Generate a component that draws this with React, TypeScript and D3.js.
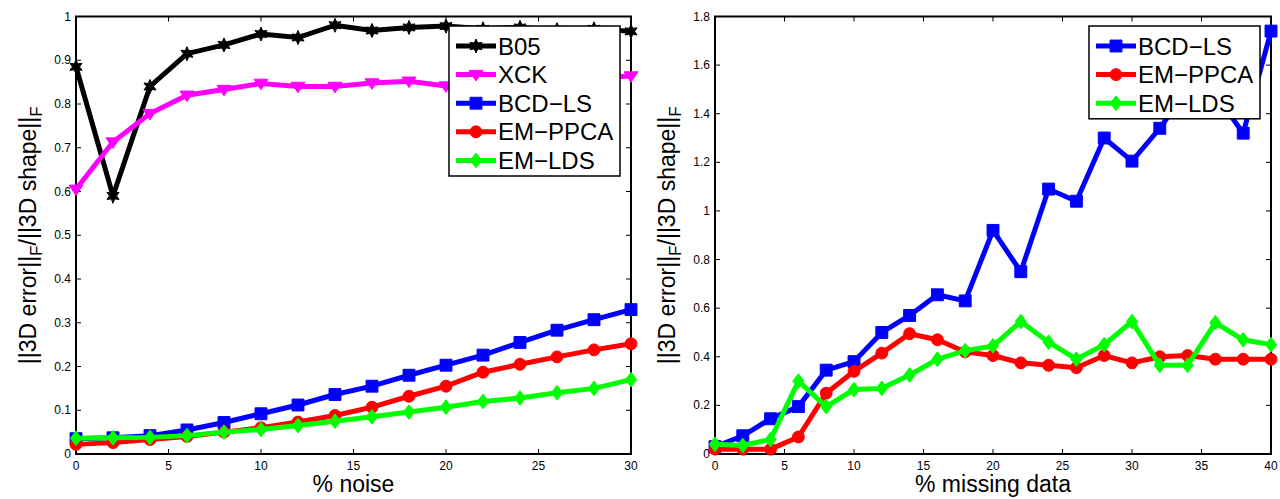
import React from 'react';
import * as d3 from 'd3';

// ---------- data ----------
const noiseX = [0, 2, 4, 6, 8, 10, 12, 14, 16, 18, 20, 22, 24, 26, 28, 30];
const b05 = [0.885, 0.59, 0.84, 0.915, 0.935, 0.96, 0.952, 0.98, 0.968, 0.975, 0.978, 0.972, 0.975, 0.97, 0.972, 0.966];
const xck = [0.605, 0.713, 0.778, 0.82, 0.833, 0.847, 0.84, 0.84, 0.848, 0.852, 0.841, 0.845, 0.85, 0.855, 0.86, 0.864];
const bcdNoise = [0.035, 0.037, 0.042, 0.055, 0.072, 0.092, 0.112, 0.136, 0.155, 0.18, 0.203, 0.226, 0.255, 0.283, 0.307, 0.33];
const ppcaNoise = [0.022, 0.026, 0.033, 0.04, 0.05, 0.06, 0.073, 0.088, 0.107, 0.132, 0.155, 0.187, 0.205, 0.222, 0.238, 0.252];
const ldsNoise = [0.036, 0.037, 0.038, 0.042, 0.05, 0.056, 0.065, 0.075, 0.085, 0.096, 0.107, 0.12, 0.128, 0.14, 0.15, 0.17];

const missX = [0, 2, 4, 6, 8, 10, 12, 14, 16, 18, 20, 22, 24, 26, 28, 30, 32, 34, 36, 38, 40];
const bcdMiss = [0.03, 0.075, 0.145, 0.195, 0.345, 0.38, 0.5, 0.57, 0.655, 0.63, 0.92, 0.75, 1.09, 1.04, 1.3, 1.205, 1.34, 1.5, 1.48, 1.32, 1.74];
const ppcaMiss = [0.02, 0.02, 0.02, 0.07, 0.25, 0.34, 0.415, 0.495, 0.47, 0.42, 0.405, 0.375, 0.365, 0.355, 0.405, 0.375, 0.4, 0.405, 0.39, 0.39, 0.39];
const ldsMiss = [0.04, 0.035, 0.06, 0.3, 0.195, 0.265, 0.27, 0.325, 0.39, 0.425, 0.445, 0.545, 0.46, 0.39, 0.45, 0.545, 0.365, 0.365, 0.54, 0.47, 0.45];

const leftXTicks = [0, 5, 10, 15, 20, 25, 30];
const leftYTicks = [0, 0.1, 0.2, 0.3, 0.4, 0.5, 0.6, 0.7, 0.8, 0.9, 1];
const rightXTicks = [0, 5, 10, 15, 20, 25, 30, 35, 40];
const rightYTicks = [0, 0.2, 0.4, 0.6, 0.8, 1, 1.2, 1.4, 1.6, 1.8];

type Marker = 'hexagram' | 'triangleDown' | 'square' | 'circle' | 'diamond';
interface Series { name: string; color: string; marker: Marker; xs: number[]; ys: number[]; }

const leftSeries: Series[] = [
  { name: 'B05', color: '#000000', marker: 'hexagram', xs: noiseX, ys: b05 },
  { name: 'XCK', color: '#ff00ff', marker: 'triangleDown', xs: noiseX, ys: xck },
  { name: 'BCD\u2212LS', color: '#0000ff', marker: 'square', xs: noiseX, ys: bcdNoise },
  { name: 'EM\u2212PPCA', color: '#ff0000', marker: 'circle', xs: noiseX, ys: ppcaNoise },
  { name: 'EM\u2212LDS', color: '#00ff00', marker: 'diamond', xs: noiseX, ys: ldsNoise },
];
const rightSeries: Series[] = [
  { name: 'BCD\u2212LS', color: '#0000ff', marker: 'square', xs: missX, ys: bcdMiss },
  { name: 'EM\u2212PPCA', color: '#ff0000', marker: 'circle', xs: missX, ys: ppcaMiss },
  { name: 'EM\u2212LDS', color: '#00ff00', marker: 'diamond', xs: missX, ys: ldsMiss },
];

const FONT = "'Liberation Sans', Arial, Helvetica, sans-serif";

function markerPath(m: Marker, cx: number, cy: number, s: number): string {
  const r = s / 2;
  switch (m) {
    case 'hexagram': {
      const pts: string[] = [];
      const ri = r * 0.5;
      for (let i = 0; i < 12; i++) {
        const a = -Math.PI / 2 + (i * Math.PI) / 6;
        const rr = i % 2 === 0 ? r : ri;
        pts.push(`${cx + rr * Math.cos(a)},${cy + rr * Math.sin(a)}`);
      }
      return 'M' + pts.join('L') + 'Z';
    }
    case 'triangleDown': {
      return `M${cx - r},${cy - r * 0.6}L${cx + r},${cy - r * 0.6}L${cx},${cy + r * 0.9}Z`;
    }
    case 'square': {
      const q = r * 0.85;
      return `M${cx - q},${cy - q}L${cx + q},${cy - q}L${cx + q},${cy + q}L${cx - q},${cy + q}Z`;
    }
    case 'circle': {
      const q = r * 0.85;
      return `M${cx - q},${cy}A${q},${q} 0 1,0 ${cx + q},${cy}A${q},${q} 0 1,0 ${cx - q},${cy}Z`;
    }
    case 'diamond': {
      return `M${cx},${cy - r * 1.05}L${cx + r * 0.8},${cy}L${cx},${cy + r * 1.05}L${cx - r * 0.8},${cy}Z`;
    }
  }
}

interface PanelProps {
  x0: number; x1: number; y0: number; y1: number;
  xDomain: [number, number]; yDomain: [number, number];
  xTicks: number[]; yTicks: number[];
  series: Series[];
  xLabel: string;
  legend: { left: number; top: number; right: number };
}

function fmt(v: number): string {
  return String(+v.toFixed(2));
}

function Panel(p: PanelProps) {
  const xs = d3.scaleLinear().domain(p.xDomain).range([p.x0, p.x1]);
  const ys = d3.scaleLinear().domain(p.yDomain).range([p.y1, p.y0]);
  const line = d3.line<[number, number]>().x(d => xs(d[0])).y(d => ys(d[1]));
  const tl = 5;
  const rowH = 28.6;
  const legBottom = p.legend.top + 7 + rowH * p.series.length;
  const MS = 14;
  const LW = 5;
  return (
    <g>
      {/* ticks */}
      {p.xTicks.map(t => (
        <g key={'xt' + t}>
          <line x1={xs(t)} x2={xs(t)} y1={p.y1} y2={p.y1 - tl} stroke="#000" strokeWidth={1} />
          <line x1={xs(t)} x2={xs(t)} y1={p.y0} y2={p.y0 + tl} stroke="#000" strokeWidth={1} />
          <text x={xs(t)} y={p.y1 + 16} textAnchor="middle" fontSize={12} fontFamily={FONT} fill="#000">{fmt(t)}</text>
        </g>
      ))}
      {p.yTicks.map(t => (
        <g key={'yt' + t}>
          <line x1={p.x0} x2={p.x0 + tl} y1={ys(t)} y2={ys(t)} stroke="#000" strokeWidth={1} />
          <line x1={p.x1} x2={p.x1 - tl} y1={ys(t)} y2={ys(t)} stroke="#000" strokeWidth={1} />
          <text x={p.x0 - 5} y={ys(t) + 4} textAnchor="end" fontSize={12} fontFamily={FONT} fill="#000">{fmt(t)}</text>
        </g>
      ))}
      <rect x={p.x0} y={p.y0} width={p.x1 - p.x0} height={p.y1 - p.y0} fill="none" stroke="#000" strokeWidth={2} />
      {/* series */}
      {p.series.map(s => {
        const pts = s.xs.map((x, i) => [x, s.ys[i]] as [number, number]);
        return (
          <g key={s.name}>
            <path d={line(pts) || ''} fill="none" stroke={s.color} strokeWidth={LW} strokeLinejoin="miter" />
            {pts.map((d, i) => (
              <path key={i} d={markerPath(s.marker, xs(d[0]), ys(d[1]), MS)} fill={s.color} stroke={s.color} strokeWidth={1} />
            ))}
          </g>
        );
      })}
      {/* legend */}
      <rect x={p.legend.left} y={p.legend.top} width={p.legend.right - p.legend.left} height={legBottom - p.legend.top} fill="#fff" stroke="#000" strokeWidth={1.5} />
      {p.series.map((s, i) => {
        const cy = p.legend.top + 20 + i * rowH;
        const lx0 = p.legend.left + 7;
        const lx1 = p.legend.left + 47;
        return (
          <g key={'lg' + s.name}>
            <line x1={lx0} x2={lx1} y1={cy} y2={cy} stroke={s.color} strokeWidth={LW} />
            <path d={markerPath(s.marker, (lx0 + lx1) / 2, cy, MS)} fill={s.color} stroke={s.color} strokeWidth={1} />
            <text x={lx1 + 2} y={cy + 8.5} fontSize={24} fontFamily={FONT} fill="#000">{s.name}</text>
          </g>
        );
      })}
      {/* axis labels */}
      <text x={(p.x0 + p.x1) / 2} y={p.y1 + 38} textAnchor="middle" fontSize={23} fontFamily={FONT} fill="#000">{p.xLabel}</text>
      <text transform={`translate(${p.x0 - 40},${(p.y0 + p.y1) / 2}) rotate(-90)`} textAnchor="middle" fontSize={23} fontFamily={FONT} fill="#000">
        <tspan>||3D error||</tspan>
        <tspan fontSize={17} dy={6}>F</tspan>
        <tspan dy={-6}>/||3D shape||</tspan>
        <tspan fontSize={17} dy={6}>F</tspan>
      </text>
    </g>
  );
}

export default function App() {
  return (
    <div style={{ position: 'absolute', left: 0, top: 0, width: 1280, height: 499, background: '#fff' }}>
      <svg width={1280} height={499} style={{ display: 'block' }}>
        <rect width={1280} height={499} fill="#fff" />
        <Panel x0={76} x1={631} y0={16.5} y1={454} xDomain={[0, 30]} yDomain={[0, 1]}
          xTicks={leftXTicks} yTicks={leftYTicks} series={leftSeries} xLabel="% noise"
          legend={{ left: 449, top: 26, right: 620 }} />
        <Panel x0={715} x1={1271} y0={16.5} y1={454} xDomain={[0, 40]} yDomain={[0, 1.8]}
          xTicks={rightXTicks} yTicks={rightYTicks} series={rightSeries} xLabel="% missing data"
          legend={{ left: 1089, top: 26, right: 1260 }} />
      </svg>
    </div>
  );
}
